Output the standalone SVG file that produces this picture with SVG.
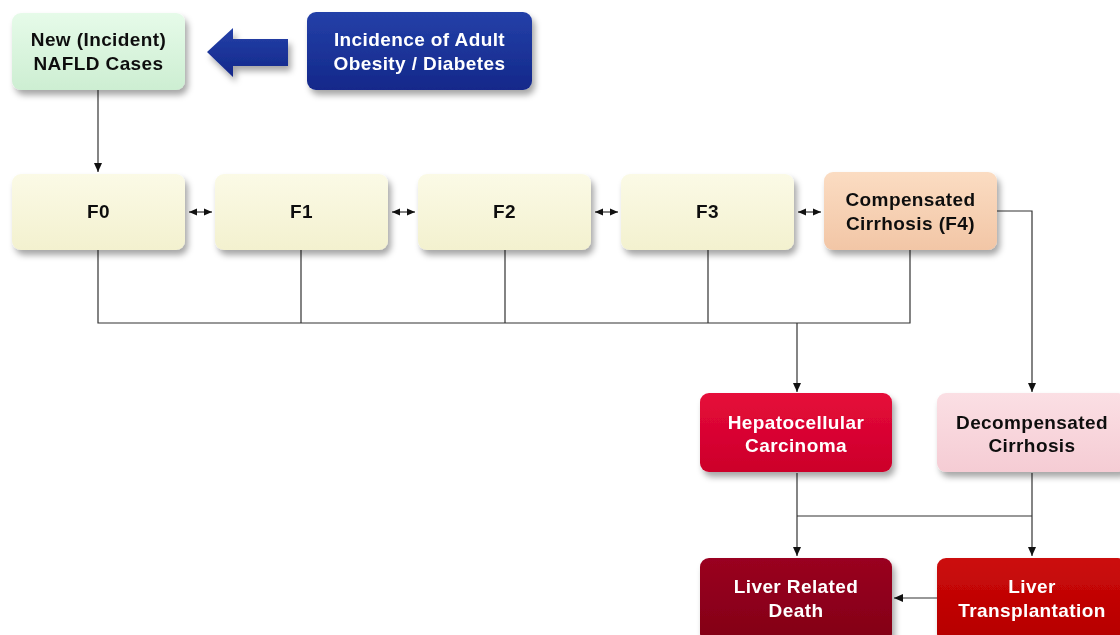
<svg xmlns="http://www.w3.org/2000/svg" width="1120" height="635" viewBox="0 0 1120 635">
<defs>
<filter id="sh" x="-10%" y="-10%" width="130%" height="140%">
<feDropShadow dx="3" dy="5" stdDeviation="3" flood-color="#000" flood-opacity="0.35"/>
</filter>
<linearGradient id="gGreen" x1="0" y1="0" x2="0" y2="1"><stop offset="0" stop-color="#e6fbe9"/><stop offset="1" stop-color="#cdeed2"/></linearGradient>
<linearGradient id="gBlue" x1="0" y1="0" x2="0" y2="1"><stop offset="0" stop-color="#2440a8"/><stop offset="1" stop-color="#13288a"/></linearGradient>
<linearGradient id="gCream" x1="0" y1="0" x2="0" y2="1"><stop offset="0" stop-color="#fbfae6"/><stop offset="1" stop-color="#f3f1cf"/></linearGradient>
<linearGradient id="gPeach" x1="0" y1="0" x2="0" y2="1"><stop offset="0" stop-color="#fbdcc2"/><stop offset="1" stop-color="#f2c6a6"/></linearGradient>
<linearGradient id="gCrimson" x1="0" y1="0" x2="0" y2="1"><stop offset="0" stop-color="#e60a3a"/><stop offset="1" stop-color="#cc002a"/></linearGradient>
<linearGradient id="gPink" x1="0" y1="0" x2="0" y2="1"><stop offset="0" stop-color="#fbdfe4"/><stop offset="1" stop-color="#f5ccd4"/></linearGradient>
<linearGradient id="gDark" x1="0" y1="0" x2="0" y2="1"><stop offset="0" stop-color="#9a0520"/><stop offset="1" stop-color="#820016"/></linearGradient>
<linearGradient id="gRed" x1="0" y1="0" x2="0" y2="1"><stop offset="0" stop-color="#cc0a0a"/><stop offset="1" stop-color="#b50000"/></linearGradient>
<marker id="ah" markerWidth="10" markerHeight="10" refX="9" refY="5" orient="auto" markerUnits="userSpaceOnUse">
<path d="M0,1 L9,5 L0,9 Z" fill="#111"/>
</marker>
<marker id="as" markerWidth="10" markerHeight="10" refX="9" refY="5" orient="auto-start-reverse" markerUnits="userSpaceOnUse">
<path d="M1,1.5 L9,5 L1,8.5 Z" fill="#111"/>
</marker>
</defs>
<style>
.box{filter:url(#sh)}
.t{font-family:"Liberation Sans",Arial,sans-serif;font-weight:bold;font-size:19px;letter-spacing:0.4px;text-anchor:middle}
.dk{fill:#111}
.wh{fill:#fff}
.ln{fill:none;stroke:#333;stroke-width:1.2}
</style>
<rect width="1120" height="635" fill="#fff"/>

<g id="connectors">
<line class="ln" x1="98" y1="90" x2="98" y2="172" marker-end="url(#ah)"/>
<line class="ln" x1="189" y1="212" x2="212" y2="212" marker-start="url(#as)" marker-end="url(#as)"/>
<line class="ln" x1="392" y1="212" x2="415" y2="212" marker-start="url(#as)" marker-end="url(#as)"/>
<line class="ln" x1="595" y1="212" x2="618" y2="212" marker-start="url(#as)" marker-end="url(#as)"/>
<line class="ln" x1="798" y1="212" x2="821" y2="212" marker-start="url(#as)" marker-end="url(#as)"/>
<path class="ln" d="M98,250 V323 H910 V250 M301,250 V323 M505,250 V323 M708,250 V323"/>
<path class="ln" d="M797,323 V392" marker-end="url(#ah)"/>
<path class="ln" d="M997,211 H1032 V392" marker-end="url(#ah)"/>
<path class="ln" d="M797,473 V556" marker-end="url(#ah)"/>
<path class="ln" d="M1032,473 V556" marker-end="url(#ah)"/>
<path class="ln" d="M797,516 H1032"/>
<path class="ln" d="M937,598 H894" marker-end="url(#ah)"/>
</g>

<g id="arrow-big">
<path d="M207,52 L233,28 L233,39 L288,39 L288,66 L233,66 L233,77 Z" fill="url(#gBlue)" class="box"/>
</g>

<g id="new-cases" class="box">
<rect x="12" y="13" width="173" height="77" rx="9" fill="url(#gGreen)"/>
<text class="t dk" x="98.5" y="46">New (Incident)</text>
<text class="t dk" x="98.5" y="70">NAFLD Cases</text>
</g>
<g id="incidence" class="box">
<rect x="307" y="12" width="225" height="78" rx="9" fill="url(#gBlue)"/>
<text class="t wh" x="419.5" y="46">Incidence of Adult</text>
<text class="t wh" x="419.5" y="70">Obesity / Diabetes</text>
</g>
<g id="f0" class="box">
<rect x="12" y="174" width="173" height="76" rx="9" fill="url(#gCream)"/>
<text class="t dk" x="98.5" y="218">F0</text>
</g>
<g id="f1" class="box">
<rect x="215" y="174" width="173" height="76" rx="9" fill="url(#gCream)"/>
<text class="t dk" x="301.5" y="218">F1</text>
</g>
<g id="f2" class="box">
<rect x="418" y="174" width="173" height="76" rx="9" fill="url(#gCream)"/>
<text class="t dk" x="504.5" y="218">F2</text>
</g>
<g id="f3" class="box">
<rect x="621" y="174" width="173" height="76" rx="9" fill="url(#gCream)"/>
<text class="t dk" x="707.5" y="218">F3</text>
</g>
<g id="f4" class="box">
<rect x="824" y="172" width="173" height="78" rx="9" fill="url(#gPeach)"/>
<text class="t dk" x="910.5" y="206">Compensated</text>
<text class="t dk" x="910.5" y="230">Cirrhosis (F4)</text>
</g>
<g id="hcc" class="box">
<rect x="700" y="393" width="192" height="79" rx="9" fill="url(#gCrimson)"/>
<text class="t wh" x="796" y="429">Hepatocellular</text>
<text class="t wh" x="796" y="452">Carcinoma</text>
</g>
<g id="decomp" class="box">
<rect x="937" y="393" width="190" height="79" rx="9" fill="url(#gPink)"/>
<text class="t dk" x="1032" y="429">Decompensated</text>
<text class="t dk" x="1032" y="452">Cirrhosis</text>
</g>
<g id="death" class="box">
<rect x="700" y="558" width="192" height="85" rx="9" fill="url(#gDark)"/>
<text class="t wh" x="796" y="593">Liver Related</text>
<text class="t wh" x="796" y="617">Death</text>
</g>
<g id="transplant" class="box">
<rect x="937" y="558" width="190" height="85" rx="9" fill="url(#gRed)"/>
<text class="t wh" x="1032" y="593">Liver</text>
<text class="t wh" x="1032" y="617">Transplantation</text>
</g>
</svg>
